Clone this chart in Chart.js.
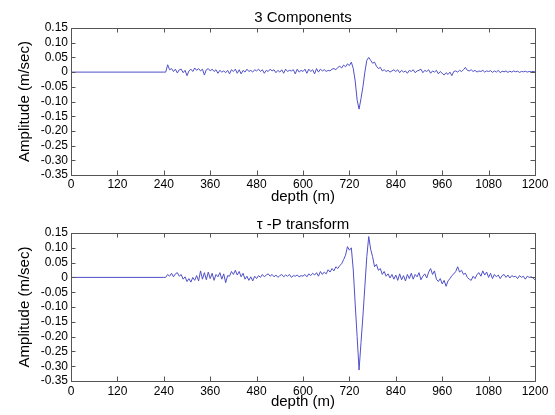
<!DOCTYPE html>
<html>
<head>
<meta charset="utf-8">
<script src="https://cdn.jsdelivr.net/npm/chart.js@4"></script>
<style>
  body { margin: 0; background: #fff; }
  canvas { position: absolute; left: 0; }
  #top { top: 0; }
  #bottom { top: 207px; }
</style>
</head>
<body>
<canvas id="top" width="555" height="207"></canvas>
<canvas id="bottom" width="555" height="208"></canvas>
<script>
// depth samples: 0 m, then every 5 m from 240 m to 1200 m
const depth = [0];
for (let d = 240; d <= 1200; d += 5) depth.push(d);

const xTicks = [0, 120, 240, 360, 480, 600, 720, 840, 960, 1080, 1200];
const yTicks = [0.15, 0.10, 0.05, 0, -0.05, -0.10, -0.15, -0.20, -0.25, -0.30, -0.35];

// 3 Components (m/sec)
const components = [0,
  // 240 - 355
  0, 0, 0.025, 0.008, 0.012, 0.002, 0.010, -0.003, 0.008, 0.010, -0.002, 0.006,
  -0.012, 0.004, 0.010, 0.002, 0.014, 0.006, 0.012, 0.004, 0.010, -0.010, 0.008, 0.012,
  // 360 - 475
  0.004, 0.010, 0.002, 0.008, -0.004, 0.006, 0.000, 0.004, -0.002, 0.006, -0.006, 0.008,
  0.002, 0.010, -0.004, 0.008, -0.006, 0.006, 0.000, 0.010, 0.002, 0.006, 0.000, 0.008,
  // 480 - 595
  0.004, 0.010, 0.002, 0.008, -0.004, 0.006, 0.002, 0.010, 0.004, 0.008, -0.002, 0.006,
  0.000, 0.008, -0.004, 0.010, 0.002, 0.006, 0.004, 0.008, -0.006, 0.010, 0.000, 0.006,
  // 600 - 715
  0.002, 0.010, -0.004, 0.010, 0.002, 0.008, -0.006, 0.012, 0.000, 0.010, 0.004, 0.008,
  0.002, 0.006, 0.004, 0.010, 0.012, 0.008, 0.016, 0.020, 0.014, 0.024, 0.018, 0.028,
  // 720 - 835
  0.022, 0.034, 0.012, -0.030, -0.095, -0.126, -0.090, -0.050, 0.000, 0.040, 0.050, 0.040,
  0.030, 0.034, 0.020, 0.012, 0.016, 0.004, 0.008, 0.002, 0.006, 0.000, 0.004, 0.008,
  // 840 - 955
  0.002, 0.008, -0.002, 0.006, 0.000, 0.004, -0.004, 0.006, 0.002, 0.008, -0.002, 0.004,
  0.006, 0.010, -0.002, 0.006, 0.002, 0.008, -0.004, 0.004, 0.000, 0.006, -0.006, 0.002,
  // 960 - 1075
  -0.004, -0.010, -0.002, -0.008, 0.000, -0.012, 0.002, 0.004, 0.000, 0.006, 0.002, 0.008,
  0.016, 0.006, 0.004, 0.008, 0.002, 0.006, 0.000, 0.004, 0.002, 0.006, 0.000, 0.004,
  // 1080 - 1195
  0.002, 0.005, -0.001, 0.004, 0.000, 0.006, -0.002, 0.003, 0.001, 0.004, -0.001, 0.003,
  0.000, 0.004, 0.001, 0.003, -0.001, 0.002, 0.001, 0.003, 0.000, 0.002, 0.001, 0.002,
  // 1200
  0.001
];

// tau-P transform (m/sec)
const tauP = [0,
  // 240 - 355
  0, 0, 0.010, 0.004, 0.014, 0.002, 0.012, 0.016, 0.004, 0.010, -0.006, 0.002,
  -0.014, -0.004, -0.016, 0.000, -0.010, 0.006, -0.012, 0.022, -0.006, 0.016, -0.008, 0.018,
  // 360 - 475
  -0.004, 0.014, -0.010, 0.010, 0.002, 0.016, -0.006, 0.012, -0.018, 0.006, 0.004, 0.020,
  0.010, 0.024, 0.008, 0.020, 0.002, 0.014, -0.006, 0.004, -0.010, 0.002, -0.012, 0.004,
  // 480 - 595
  -0.004, 0.006, 0.000, 0.010, 0.002, 0.008, 0.012, 0.004, 0.010, 0.002, 0.008, 0.000,
  0.006, 0.010, 0.002, 0.008, 0.004, 0.010, 0.000, 0.006, 0.004, 0.008, 0.002, 0.006,
  // 600 - 715
  0.004, 0.010, 0.002, 0.012, 0.006, 0.014, 0.008, 0.016, 0.004, 0.020, 0.010, 0.018,
  0.012, 0.026, 0.018, 0.030, 0.022, 0.036, 0.030, 0.040, 0.046, 0.060, 0.075, 0.104,
  // 720 - 835
  0.092, 0.100, 0.025, -0.090, -0.200, -0.313, -0.220, -0.130, -0.030, 0.070, 0.138, 0.095,
  0.070, 0.036, 0.044, 0.024, 0.030, 0.010, 0.020, 0.004, 0.012, -0.002, 0.010, -0.006,
  // 840 - 955
  0.008, -0.010, 0.012, -0.008, 0.006, -0.012, 0.010, -0.004, 0.014, -0.006, 0.010, 0.002,
  0.016, -0.008, 0.004, 0.012, -0.002, 0.018, 0.030, 0.010, 0.022, -0.006, -0.014, -0.004,
  // 960 - 1075
  -0.022, -0.010, -0.030, -0.012, -0.004, 0.006, 0.012, 0.020, 0.036, 0.018, 0.024, 0.010,
  0.014, 0.000, -0.006, -0.010, 0.004, -0.004, 0.010, 0.016, 0.004, 0.022, 0.008, 0.018,
  // 1080 - 1195
  0.000, 0.014, -0.004, 0.010, 0.002, 0.008, -0.004, 0.006, 0.010, 0.000, 0.008, -0.002,
  0.006, 0.002, 0.004, -0.004, 0.006, 0.000, 0.004, -0.006, 0.004, 0.000, 0.002, -0.002,
  // 1200
  -0.008
];

const FONT = "'Liberation Sans', Arial, sans-serif";
const lineColor = '#5050c8';

// MATLAB-like box with inward ticks on all four sides, title centred over the axes
const boxTicks = {
  id: 'boxTicks',
  afterDraw(chart, args, opts) {
    const { ctx, chartArea: a, scales } = chart;
    const len = 4.5;
    ctx.save();
    ctx.strokeStyle = '#555';
    ctx.lineWidth = 1;
    ctx.beginPath();
    scales.x.ticks.forEach(t => {
      const px = Math.round(scales.x.getPixelForValue(t.value)) + 0.5;
      ctx.moveTo(px, a.bottom); ctx.lineTo(px, a.bottom - len);
      ctx.moveTo(px, a.top); ctx.lineTo(px, a.top + len);
    });
    scales.y.ticks.forEach(t => {
      const py = Math.round(scales.y.getPixelForValue(t.value)) + 0.5;
      ctx.moveTo(a.left, py); ctx.lineTo(a.left + len, py);
      ctx.moveTo(a.right, py); ctx.lineTo(a.right - len, py);
    });
    ctx.stroke();
    ctx.strokeRect(Math.round(a.left) + 0.5, Math.round(a.top) + 0.5,
      Math.round(a.right - a.left), Math.round(a.bottom - a.top));

    ctx.fillStyle = '#000';
    ctx.font = '15px ' + FONT;
    ctx.textAlign = 'center';
    ctx.textBaseline = 'middle';
    ctx.fillText(opts.text, (a.left + a.right) / 2, a.top - opts.gap);
    ctx.restore();
  }
};

function makeChart(id, title, values, cfg) {
  const ctx = document.getElementById(id).getContext('2d');
  return new Chart(ctx, {
    type: 'line',
    data: {
      datasets: [{
        data: depth.map((d, i) => ({ x: d, y: values[i] })),
        borderColor: lineColor,
        borderWidth: 1,
        pointRadius: 0,
        tension: 0,
        fill: false
      }]
    },
    options: {
      responsive: false,
      animation: false,
      layout: { padding: { left: 0, right: 20, top: cfg.top, bottom: 0 } },
      plugins: {
        legend: { display: false },
        tooltip: { enabled: false },
        title: { display: false },
        boxTicks: { text: title, gap: cfg.titleGap }
      },
      scales: {
        x: {
          type: 'linear',
          min: 0, max: 1200,
          afterBuildTicks: s => { s.ticks = xTicks.map(v => ({ value: v })); },
          afterFit: s => { s.height = cfg.xHeight; },
          grid: { display: false, drawTicks: false },
          border: { display: false },
          ticks: {
            color: '#000', font: { family: FONT, size: 12 }, padding: cfg.xTickPad,
            maxRotation: 0, autoSkip: false,
            callback: v => String(v)
          },
          title: {
            display: true, text: 'depth (m)', color: '#000',
            font: { family: FONT, size: 15 },
            padding: { top: 0, bottom: cfg.xTitlePad }
          }
        },
        y: {
          min: -0.35, max: 0.15,
          afterBuildTicks: s => { s.ticks = yTicks.map(v => ({ value: v })); },
          afterFit: s => { s.width = 71; },
          grid: { display: false, drawTicks: false },
          border: { display: false },
          ticks: {
            color: '#000', font: { family: FONT, size: 12 }, padding: 3, autoSkip: false,
            callback: v => Math.abs(v) < 1e-9 ? '0' : v.toFixed(2)
          },
          title: {
            display: true, text: 'Amplitude (m/sec)', color: '#000',
            font: { family: FONT, size: 15 },
            padding: { top: 16, bottom: 0 }
          }
        }
      }
    },
    plugins: [boxTicks]
  });
}

makeChart('top', '3 Components', components,
  { top: 28, titleGap: 10, xHeight: 32, xTickPad: 2, xTitlePad: 1 });
makeChart('bottom', 'τ -P transform', tauP,
  { top: 26, titleGap: 8, xHeight: 34, xTickPad: 3, xTitlePad: 4 });
</script>
</body>
</html>
